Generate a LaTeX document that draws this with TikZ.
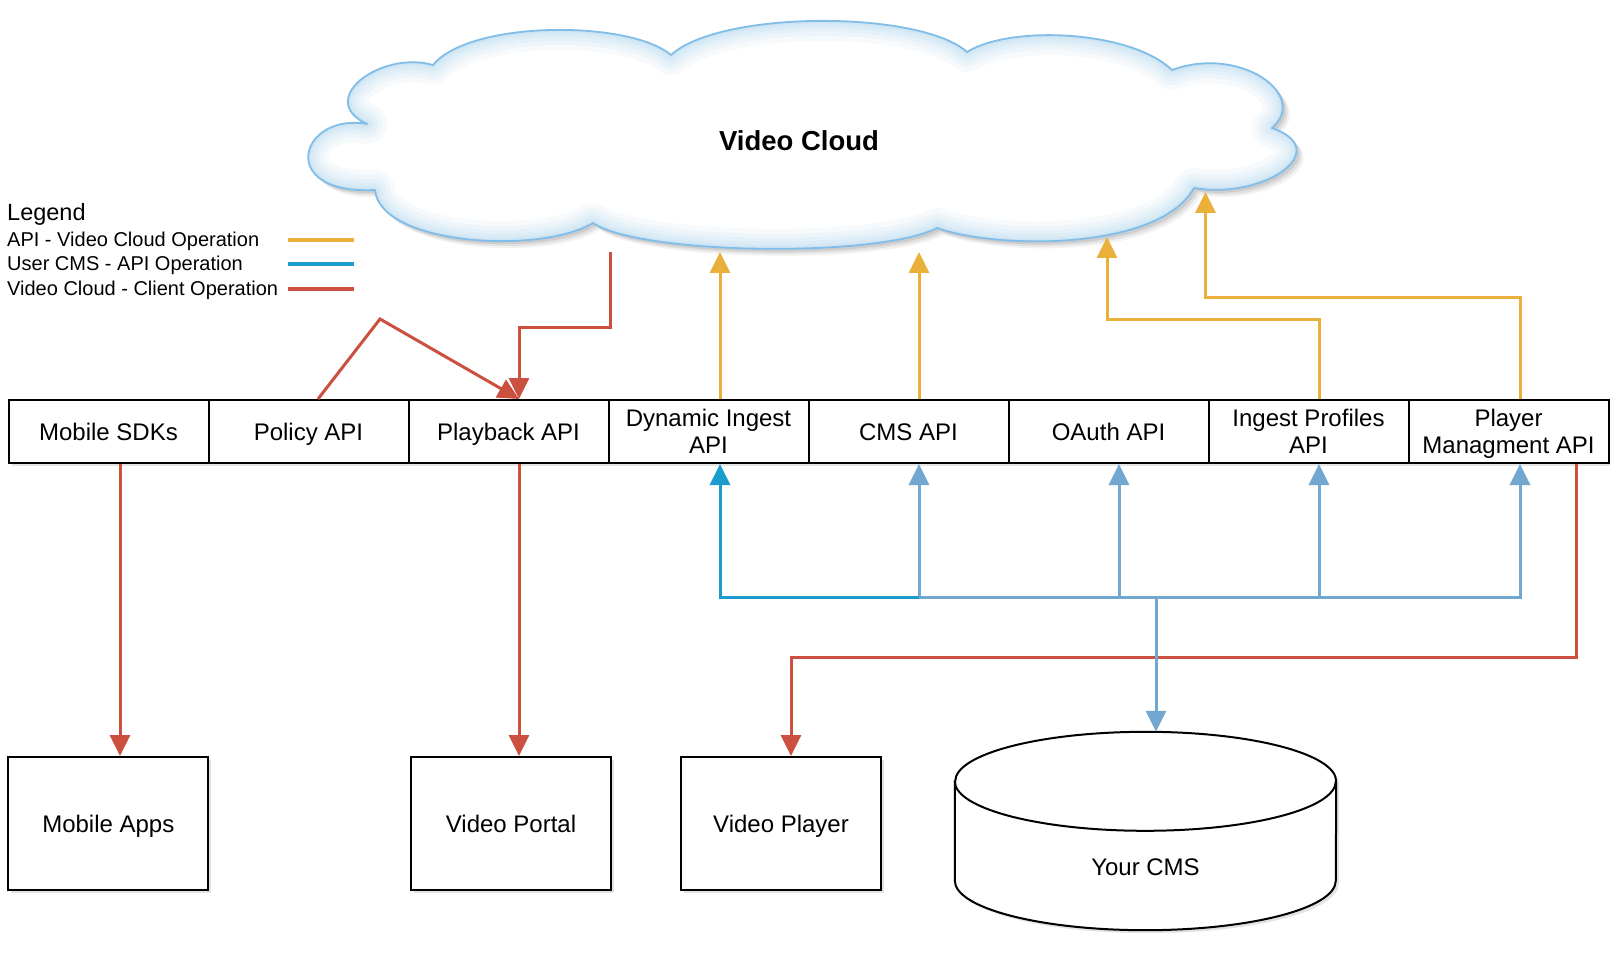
\documentclass[tikz,border=0pt]{standalone}
\usepackage{fontspec}
\setmainfont{Liberation Sans}
\usetikzlibrary{arrows.meta,shadows,calc}

\definecolor{vcorange}{HTML}{EBB03A}
\definecolor{vcred}{HTML}{CC5040}
\definecolor{vcdblue}{HTML}{1C9BCF}
\definecolor{vclblue}{HTML}{72A8D0}
\definecolor{vccloud}{HTML}{80BDE8}

\newcommand{\vcl}[1]{\rule[-3.2pt]{0pt}{24pt}\smash{#1}}

\newcommand{\vcloudpath}{(433,65) .. controls (380,50) and (315,100) .. (367,124)
 .. controls (300,112) and (275,195) .. (375,190)
 .. controls (380,245) and (540,255) .. (593,223)
 .. controls (640,255) and (880,258) .. (937,228)
 .. controls (1000,250) and (1160,250) .. (1194,188)
 .. controls (1265,200) and (1335,150) .. (1272,128)
 .. controls (1310,95) and (1240,45) .. (1172,70)
 .. controls (1130,30) and (1010,25) .. (967,52)
 .. controls (920,10) and (720,10) .. (671,55)
 .. controls (630,20) and (470,20) .. (433,65) -- cycle}

\begin{document}
\begin{tikzpicture}[x=1pt,y=-1pt,
  shad/.style={drop shadow={opacity=0.22, shadow xshift=3pt, shadow yshift=-3pt}},
  lbl/.style={font=\fontsize{24pt}{27.2pt}\selectfont},
  apibox/.style={draw=black, line width=2pt, fill=white, minimum width=200pt,
    minimum height=63pt, inner sep=0pt, align=center, lbl, shad},
  endbox/.style={draw=black, line width=2pt, fill=white, minimum width=200pt,
    minimum height=133pt, inner sep=0pt, align=center, lbl, shad},
  conn/.style={line width=3pt, line join=miter},
  tip/.style={-{Triangle[length=21pt,width=20pt]}},
  legtext/.style={anchor=base west, inner sep=0pt, font=\fontsize{20pt}{22pt}\selectfont},
  legline/.style={line width=3.5pt},
  glow/.style={line join=round, draw=vccloud, opacity=0.07}
]
\useasboundingbox (0,0) rectangle (1610,960);

% ---------- cloud ----------
\fill[black, opacity=0.05, shift={(7pt,-7pt)}] \vcloudpath;
\fill[black, opacity=0.07, shift={(5pt,-5pt)}] \vcloudpath;
\fill[black, opacity=0.09, shift={(3pt,-3pt)}] \vcloudpath;
\fill[white] \vcloudpath;
\begin{scope}
  \clip \vcloudpath;
  \draw[glow, line width=40pt] \vcloudpath;
  \draw[glow, line width=30pt] \vcloudpath;
  \draw[glow, line width=22pt] \vcloudpath;
  \draw[glow, line width=15pt] \vcloudpath;
  \draw[glow, line width=9pt] \vcloudpath;
  \draw[glow, line width=5pt] \vcloudpath;
\end{scope}
\draw[vccloud, line width=1.8pt, line join=round] \vcloudpath;
\node[font=\fontsize{27.5pt}{30pt}\selectfont\bfseries] (cloud) at (799,141) {Video Cloud};

% ---------- legend ----------
\node[legtext, font=\fontsize{23.5pt}{26pt}\selectfont] (leg) at (7,220.5) {Legend};
\node[legtext] (leg1) at (7,246.5) {API - Video Cloud Operation};
\node[legtext] (leg2) at (7,270.5) {User CMS - API Operation};
\node[legtext] (leg3) at (7,295) {Video Cloud - Client Operation};
\coordinate (l1a) at (288,240); \coordinate (l1b) at (354,240);
\coordinate (l2a) at (288,264); \coordinate (l2b) at (354,264);
\coordinate (l3a) at (288,289); \coordinate (l3b) at (354,289);
\draw[legline, vcorange] (l1a) -- (l1b);
\draw[legline, vcdblue] (l2a) -- (l2b);
\draw[legline, vcred] (l3a) -- (l3b);

% ---------- API row ----------
\node[apibox] (sdk) at (108.5,431.5) {\vcl{Mobile SDKs}};
\node[apibox] (policy) at (308.5,431.5) {\vcl{Policy API}};
\node[apibox] (playback) at (508.5,431.5) {\vcl{Playback API}};
\node[apibox] (dyn) at (708.5,431.5) {\vcl{Dynamic Ingest}\\\vcl{API}};
\node[apibox] (cmsapi) at (908.5,431.5) {\vcl{CMS API}};
\node[apibox] (oauth) at (1108.5,431.5) {\vcl{OAuth API}};
\node[apibox] (ip) at (1308.5,431.5) {\vcl{Ingest Profiles}\\\vcl{API}};
\node[apibox] (pm) at (1508.5,431.5) {\vcl{Player}\\\vcl{Managment API}};

% ---------- bottom targets ----------
\node[endbox] (apps) at (108.3,823.5) {\vcl{Mobile Apps}};
\node[endbox] (portal) at (511,823.5) {\vcl{Video Portal}};
\node[endbox] (player) at (781,823.5) {\vcl{Video Player}};

\node[minimum width=381pt, minimum height=198pt, inner sep=0pt] (cmsdb) at (1145.5,831) {};
\path[fill=white, draw=black, line width=2pt, shad]
  ([yshift=-49.5pt]cmsdb.north west) -- ([yshift=49.5pt]cmsdb.south west)
  arc[start angle=180, end angle=360, x radius=190.5pt, y radius=49.5pt]
  -- ([yshift=-49.5pt]cmsdb.north east)
  arc[start angle=0, end angle=180, x radius=190.5pt, y radius=49.5pt] -- cycle;
\draw[black, line width=2pt] ([yshift=-49.5pt]cmsdb.north west)
  arc[start angle=180, end angle=360, x radius=190.5pt, y radius=49.5pt];
\node[lbl, anchor=base, inner sep=0pt] (cmslabel) at (1145.5,875) {Your CMS};

% ---------- red: Video Cloud - Client ----------
\coordinate (pbtop) at ([xshift=10.5pt]playback.north);
\coordinate (cloudout) at (610,252);
\coordinate (policypeak) at (380,319);
\coordinate (redbend) at (791,657);
\draw[conn, vcred, tip] ([xshift=11.5pt]sdk.south) -- ([xshift=11.5pt]sdk.south |- apps.north);
\draw[conn, vcred, tip] ([xshift=10.5pt]playback.south) -- ([xshift=10.5pt]playback.south |- portal.north);
\draw[conn, vcred, tip] (cloudout) -- (cloudout |- 0,327) -| (pbtop);
\draw[conn, vcred, tip] ([xshift=9.5pt]policy.north) -- (policypeak) -- (pbtop);
\draw[conn, vcred, tip] ([xshift=67.5pt]pm.south) |- (redbend) -- ([xshift=10pt]player.north);

% ---------- orange: API - Video Cloud ----------
\coordinate (oA) at (720,252);
\coordinate (oB) at (919,252);
\coordinate (oC) at (1107,237);
\coordinate (oD) at (1205.5,192);
\draw[conn, vcorange, tip] ([xshift=11.5pt]dyn.north) -- (oA);
\draw[conn, vcorange, tip] ([xshift=10.5pt]cmsapi.north) -- (oB);
\draw[conn, vcorange, tip] ([xshift=10.5pt]ip.north) -- ([xshift=10.5pt]ip.north |- 0,319) -| (oC);
\draw[conn, vcorange, tip] ([xshift=11.5pt]pm.north) -- ([xshift=11.5pt]pm.north |- 0,298) -| (oD);

% ---------- blue: User CMS - API ----------
\coordinate (hub) at (1156,597);
\draw[conn, vclblue, tip] (hub) -- ([xshift=10.5pt]cmsdb.north);
\draw[conn, vclblue, tip] (hub) -| ([xshift=11.5pt]pm.south);
\draw[conn, vclblue, tip] (hub) -| ([xshift=10.5pt]ip.south);
\draw[conn, vclblue, tip] (hub) -| ([xshift=10.5pt]oauth.south);
\draw[conn, vclblue, tip] (hub) -| ([xshift=10.5pt]cmsapi.south);
\draw[conn, vcdblue, tip] ([xshift=10.5pt]cmsapi.south |- hub) -| ([xshift=11.5pt]dyn.south);
\end{tikzpicture}
\end{document}
